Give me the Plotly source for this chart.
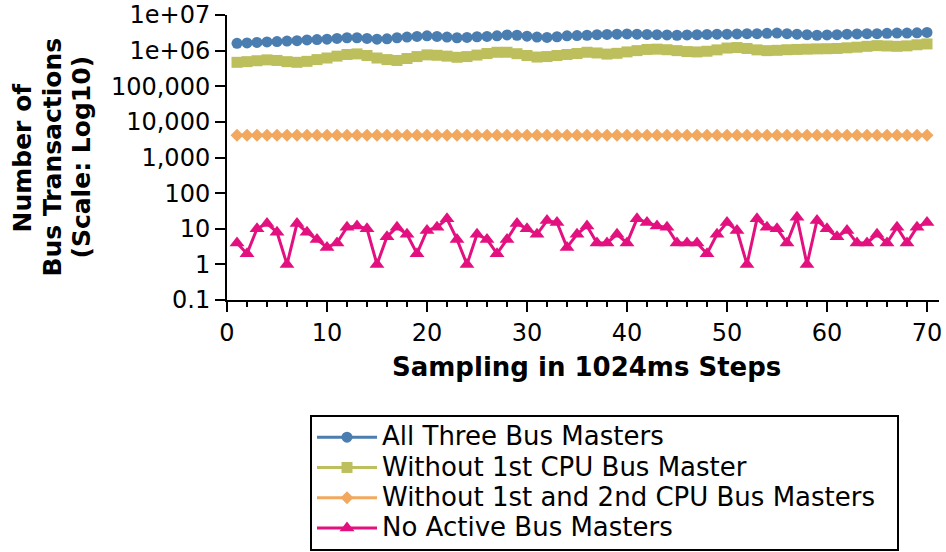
import plotly.graph_objects as go

steps = list(range(1, 71))

all_three = [v * 1e6 for v in [
    1.6, 1.65, 1.7, 1.75, 1.8, 1.85, 1.9, 2.0, 2.05, 2.1,
    2.2, 2.3, 2.3, 2.2, 2.1, 2.15, 2.3, 2.4, 2.5, 2.6,
    2.5, 2.4, 2.3, 2.35, 2.45, 2.5, 2.6, 2.75, 2.7, 2.55,
    2.4, 2.35, 2.45, 2.6, 2.65, 2.7, 2.8, 2.85, 2.9, 2.95,
    2.9, 2.85, 2.8, 2.75, 2.7, 2.75, 2.8, 2.85, 2.9, 2.9,
    2.95, 3.0, 3.0, 3.05, 3.1, 3.0, 2.9, 2.8, 2.7, 2.75,
    2.8, 2.9, 2.95, 3.0, 3.0, 3.05, 3.1, 3.1, 3.15, 3.25]]

without_1st = [v * 1e5 for v in [
    4.7, 4.9, 5.2, 5.5, 5.3, 4.9, 4.7, 5.0, 5.6, 6.2,
    7.0, 7.8, 8.1, 7.3, 6.2, 5.6, 5.3, 6.0, 6.8, 7.6,
    7.4, 7.0, 6.5, 6.8, 7.5, 8.3, 9.0, 9.0, 8.2, 7.3,
    6.6, 6.8, 7.3, 7.8, 8.3, 9.0, 8.6, 8.0, 8.4, 9.2,
    10.0, 10.8, 11.0, 10.6, 10.0, 9.4, 9.2, 9.6, 10.5, 11.8,
    12.2, 11.5, 10.5, 10.0, 10.2, 10.6, 10.8, 11.0, 11.2, 11.3,
    11.5, 12.0, 12.5, 13.2, 13.8, 13.5, 13.2, 13.6, 14.6, 15.4]]

without_1st_2nd = [4200] * 70

no_active = [
    4, 2, 10, 14, 8, 1, 14, 8, 5, 3,
    4, 11, 12, 10, 1, 6, 11, 7, 2, 9,
    11, 19, 5, 1, 7, 5, 2, 5, 14, 10,
    7, 17, 15, 3, 7, 12, 4, 4, 7, 4,
    19, 15, 12, 11, 4, 4, 4, 2, 7, 15,
    9, 1, 19, 11, 10, 4, 21, 1, 17, 10,
    6, 9, 4, 4, 7, 4, 11, 4, 11, 15]

names = ["All Three Bus Masters", "Without 1st CPU Bus Master",
         "Without 1st and 2nd CPU Bus Masters", "No Active Bus Masters"]
colors = ["#4a7db0", "#bcbf5c", "#f2a85e", "#e3107f"]
symbols = ["circle", "square", "diamond", "triangle-up"]
sizes = [11, 11, 10, 13]

ytickvals = [0.1, 1, 10, 100, 1000, 10000, 100000, 1e6, 1e7]
yticktext = ["0.1", "1", "10", "100", "1,000", "10,000", "100,000", "1e+06", "1e+07"]
xtickvals = [0, 10, 20, 30, 40, 50, 60, 70]
ytitle_lines = ["Number of", "Bus Transactions", "(Scale: Log10)"]

W, H = 946, 552
L, R, T, B = 227, 7, 15, 252
PW, PH = W - L - R, H - T - B

fig = go.Figure()
for series, name, c, s, sz in zip([all_three, without_1st, without_1st_2nd, no_active],
                                   names, colors, symbols, sizes):
    fig.add_trace(go.Scatter(
        x=steps, y=series, mode="lines+markers",
        name='<span style="font-size:26px">' + name + '&nbsp;&nbsp;</span>',
        line=dict(color=c, width=3),
        marker=dict(color=c, symbol=s, size=sz),
    ))

axis_font = dict(family="DejaVu Sans", size=24, color="black")
title_font = dict(family="DejaVu Sans", size=26, color="black")

annotations = [
    dict(text="<b>Sampling in 1024ms Steps</b>", xref="paper", yref="paper",
         x=(586 - L) / PW, y=(T + PH - 367) / PH, xanchor="center", yanchor="middle",
         showarrow=False, font=title_font),
]
for line, px in zip(ytitle_lines, [22, 52, 81]):
    annotations.append(dict(
        text="<b>" + line + "</b>", xref="paper", yref="paper",
        x=(px - L) / PW, y=0.5, xanchor="center", yanchor="middle",
        showarrow=False, textangle=-90, font=dict(family="DejaVu Sans", size=25, color="black")))

fig.update_layout(
    width=W, height=H,
    margin=dict(l=L, r=R, t=T, b=B, autoexpand=False),
    paper_bgcolor="white", plot_bgcolor="white",
    font=dict(family="DejaVu Sans", size=24, color="black"),
    showlegend=True,
    legend=dict(
        xref="container", yref="container",
        x=310 / W, y=1 - 415 / H, xanchor="left", yanchor="top",
        bordercolor="black", borderwidth=2,
        font=dict(family="DejaVu Sans", size=21, color="black"),
        itemwidth=60, tracegroupgap=0,
    ),
    xaxis=dict(
        range=[0, 71.2], showgrid=False, zeroline=False,
        showline=True, linecolor="black", linewidth=2,
        ticks="outside", ticklen=10, tickwidth=2, tickcolor="black",
        tickvals=xtickvals, tickfont=axis_font,
        minor=dict(ticks="outside", ticklen=5, tickwidth=2, tickcolor="black", dtick=2, tick0=0),
    ),
    yaxis=dict(
        type="log", range=[-1, 7], showgrid=False, zeroline=False,
        showline=True, linecolor="black", linewidth=2,
        ticks="outside", ticklen=10, tickwidth=2, tickcolor="black",
        tickvals=ytickvals, ticktext=yticktext, tickfont=axis_font,
    ),
    annotations=annotations,
)

fig.write_html("out.html", config={"displayModeBar": False},
               post_script="document.body.style.margin='0px';")
